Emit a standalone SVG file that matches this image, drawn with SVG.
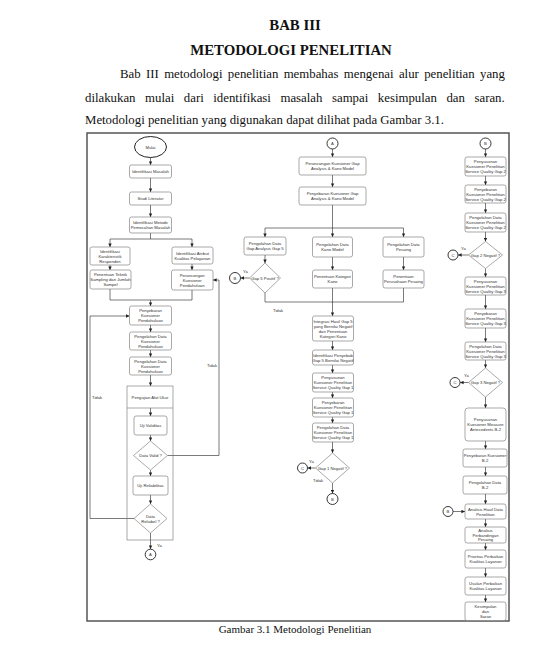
<svg xmlns="http://www.w3.org/2000/svg" width="558" height="655" viewBox="0 0 558 655">
<defs>
<marker id="ah" markerWidth="4" markerHeight="4" refX="3.6" refY="2" orient="auto" markerUnits="userSpaceOnUse"><path d="M0,0.3 L3.6,2 L0,3.7 z" fill="#222"/></marker>
<style>
.hd{font-family:"Liberation Serif","Times New Roman",serif;fill:#111}
.box{fill:#fff;stroke:#707070;stroke-width:0.6}
.dia{fill:#fff;stroke:#707070;stroke-width:0.6}
.con{fill:#fff;stroke:#222;stroke-width:0.9}
.t{font-family:"Liberation Sans",Arial,sans-serif;font-size:4.2px;fill:#333;text-anchor:middle}
.lb{font-family:"Liberation Sans",Arial,sans-serif;font-size:4.2px;fill:#333}
.ln{fill:none;stroke:#333;stroke-width:0.65}
.ar{fill:none;stroke:#333;stroke-width:0.65;marker-end:url(#ah)}
</style>
</defs>
<rect width="558" height="655" fill="#fff"/>
<text class="hd" x="295" y="30" font-size="14.8" font-weight="bold" text-anchor="middle">BAB III</text>
<text class="hd" x="291" y="55" font-size="14.8" font-weight="bold" text-anchor="middle">METODOLOGI PENELITIAN</text>
<text class="hd" x="120" y="78" font-size="12.8" word-spacing="2.18">Bab III metodologi penelitian membahas mengenai alur penelitian yang</text>
<text class="hd" x="85" y="102" font-size="12.8" word-spacing="6.4">dilakukan mulai dari identifikasi masalah sampai kesimpulan dan saran.</text>
<text class="hd" x="85" y="124" font-size="12.8">Metodologi penelitian yang digunakan dapat dilihat pada Gambar 3.1.</text>
<rect x="87" y="133" width="422" height="488" fill="none" stroke="#555" stroke-width="1.5"/>
<text class="hd" x="295" y="633" font-size="11" text-anchor="middle">Gambar 3.1 Metodologi Penelitian</text>

<g id="connectors">
<line class="ar" x1="150.5" y1="157.5" x2="150.5" y2="165"/>
<line class="ar" x1="150.5" y1="178" x2="150.5" y2="192"/>
<line class="ar" x1="150.5" y1="205" x2="150.5" y2="217"/>
<path class="ln" d="M150.5,233 V239 M110,239 H192"/>
<line class="ar" x1="110" y1="239" x2="110" y2="247"/>
<line class="ar" x1="192" y1="239" x2="192" y2="247"/>
<line class="ar" x1="110" y1="265" x2="110" y2="270"/>
<line class="ar" x1="192" y1="264" x2="192" y2="270"/>
<path class="ln" d="M110,289 V300 H192 V290"/>
<line class="ar" x1="150.5" y1="300" x2="150.5" y2="306"/>
<line class="ar" x1="150.5" y1="325" x2="150.5" y2="332"/>
<line class="ar" x1="150.5" y1="350" x2="150.5" y2="357"/>
<line class="ar" x1="150.5" y1="375" x2="150.5" y2="386"/>
<line class="ar" x1="150.5" y1="408" x2="150.5" y2="416"/>
<line class="ar" x1="150.5" y1="435" x2="150.5" y2="441"/>
<line class="ar" x1="150.5" y1="470" x2="150.5" y2="476"/>
<line class="ar" x1="150.5" y1="495" x2="150.5" y2="504"/>
<line class="ar" x1="150.5" y1="533" x2="150.5" y2="549"/>
<path class="ar" d="M167.5,455.5 H219 V280 H213"/>
<path class="ar" d="M134,518.5 H90 V316 H129.5"/>
<text class="lb" x="157" y="547">Ya</text>
<text class="lb" x="217" y="367" text-anchor="end">Tidak</text>
<text class="lb" x="92" y="399">Tidak</text>

<line class="ar" x1="332.5" y1="149" x2="332.5" y2="157"/>
<line class="ar" x1="332.5" y1="175" x2="332.5" y2="187"/>
<path class="ln" d="M332.5,205 V228 M265,228 H403.5"/>
<line class="ar" x1="265" y1="228" x2="265" y2="237"/>
<line class="ar" x1="332.5" y1="228" x2="332.5" y2="237"/>
<line class="ar" x1="403.5" y1="228" x2="403.5" y2="237"/>
<line class="ar" x1="265" y1="255" x2="265" y2="263"/>
<line class="ar" x1="332.5" y1="257" x2="332.5" y2="270"/>
<line class="ar" x1="403.5" y1="257" x2="403.5" y2="270"/>
<line class="ar" x1="249.5" y1="278" x2="240.5" y2="278"/>
<text class="lb" x="243" y="273">Ya</text>
<path class="ln" d="M265,293 V302 H403.5 V288 M332.5,288 V302"/>
<text class="lb" x="273" y="312">Tidak</text>
<line class="ar" x1="332.5" y1="302" x2="332.5" y2="316"/>
<line class="ar" x1="332.5" y1="341" x2="332.5" y2="350"/>
<line class="ar" x1="332.5" y1="365" x2="332.5" y2="373"/>
<line class="ar" x1="332.5" y1="392" x2="332.5" y2="398"/>
<line class="ar" x1="332.5" y1="417" x2="332.5" y2="423"/>
<line class="ar" x1="332.5" y1="442" x2="332.5" y2="453"/>
<line class="ar" x1="315.5" y1="468" x2="307.5" y2="468"/>
<text class="lb" x="309" y="463">Ya</text>
<text class="lb" x="313" y="482">Tidak</text>
<line class="ar" x1="332.5" y1="483" x2="332.5" y2="493.5"/>

<line class="ar" x1="485.5" y1="149" x2="485.5" y2="157"/>
<line class="ar" x1="485.5" y1="176" x2="485.5" y2="185"/>
<line class="ar" x1="485.5" y1="203" x2="485.5" y2="213"/>
<line class="ar" x1="485.5" y1="232" x2="485.5" y2="241.5"/>
<line class="ar" x1="468.5" y1="255" x2="458" y2="255"/>
<text class="lb" x="461" y="250">Ya</text>
<line class="ar" x1="485.5" y1="268.5" x2="485.5" y2="277"/>
<line class="ar" x1="485.5" y1="295" x2="485.5" y2="309"/>
<line class="ar" x1="485.5" y1="328" x2="485.5" y2="342"/>
<line class="ar" x1="485.5" y1="360" x2="485.5" y2="368"/>
<line class="ar" x1="468.5" y1="382.5" x2="460" y2="382.5"/>
<text class="lb" x="464" y="377">Ya</text>
<line class="ar" x1="485.5" y1="397" x2="485.5" y2="408"/>
<line class="ar" x1="485.5" y1="441" x2="485.5" y2="449"/>
<line class="ar" x1="485.5" y1="467" x2="485.5" y2="476"/>
<line class="ar" x1="485.5" y1="494" x2="485.5" y2="504"/>
<line class="ar" x1="453" y1="511.5" x2="465" y2="511.5"/>
<line class="ar" x1="485.5" y1="519" x2="485.5" y2="527"/>
<line class="ar" x1="485.5" y1="543" x2="485.5" y2="550"/>
<line class="ar" x1="485.5" y1="568" x2="485.5" y2="577"/>
<line class="ar" x1="485.5" y1="595" x2="485.5" y2="602"/>
</g>

<g id="mulai"><ellipse cx="150.5" cy="147" rx="16" ry="10.5" fill="#fff" stroke="#222" stroke-width="1"/><text class="t" x="150.5" y="148.5">Mulai</text></g>
<g id="n1"><rect class="box" x="129.5" y="165" width="42" height="13" rx="2"/><text class="t" x="150.5" y="173">Identifikasi Masalah</text></g>
<g id="n2"><rect class="box" x="129.5" y="192" width="42" height="13" rx="2"/><text class="t" x="150.5" y="200">Studi Literatur</text></g>
<g id="n3"><rect class="box" x="129.5" y="217" width="42" height="16" rx="2"/><text class="t" x="150.5" y="224">Identifikasi Metode<tspan x="150.5" dy="5">Pemecahan Masalah</tspan></text></g>
<g id="n4"><rect class="box" x="90" y="247" width="40" height="18" rx="2"/><text class="t" x="110" y="252.5">Identifikasi<tspan x="110" dy="5">Karakteristik</tspan><tspan x="110" dy="5">Responden</tspan></text></g>
<g id="n5"><rect class="box" x="172" y="247" width="41" height="17" rx="2"/><text class="t" x="192.5" y="254.5">Identifikasi Atribut<tspan x="192.5" dy="5">Kualitas Pelayanan</tspan></text></g>
<g id="n6"><rect class="box" x="90" y="270" width="41" height="19" rx="2"/><text class="t" x="110.5" y="276">Penentuan Teknik<tspan x="110.5" dy="5">Sampling dan Jumlah</tspan><tspan x="110.5" dy="5">Sampel</tspan></text></g>
<g id="n7"><rect class="box" x="171.5" y="270" width="41.5" height="20" rx="2"/><text class="t" x="192.2" y="276.5">Perancangan<tspan x="192.2" dy="5">Kuesioner</tspan><tspan x="192.2" dy="5">Pendahuluan</tspan></text></g>
<g id="n8"><rect class="box" x="129.5" y="306" width="42" height="19" rx="2"/><text class="t" x="150.5" y="312">Penyebaran<tspan x="150.5" dy="5">Kuesioner</tspan><tspan x="150.5" dy="5">Pendahuluan</tspan></text></g>
<g id="n9"><rect class="box" x="129.5" y="332" width="42" height="18" rx="2"/><text class="t" x="150.5" y="337.5">Pengolahan Data<tspan x="150.5" dy="5">Kuesioner</tspan><tspan x="150.5" dy="5">Pendahuluan</tspan></text></g>
<g id="n10"><rect class="box" x="129.5" y="357" width="42" height="18" rx="2"/><text class="t" x="150.5" y="362.5">Pengolahan Data<tspan x="150.5" dy="5">Kuesioner</tspan><tspan x="150.5" dy="5">Pendahuluan</tspan></text></g>
<g id="pengujian"><rect x="127" y="386" width="46" height="154" fill="none" stroke="#707070" stroke-width="0.6"/><line x1="127" y1="408" x2="173" y2="408" stroke="#707070" stroke-width="0.6"/><text class="t" x="150" y="398.5">Pengujian Alat Ukur</text></g>
<g id="n11"><rect class="box" x="134" y="416" width="33" height="19" rx="2"/><text class="t" x="150.5" y="427">Uji Validitas</text></g>
<g id="d1"><path class="dia" d="M150.5,441 L167.5,455.5 L150.5,470 L133.5,455.5 Z"/><text class="t" x="150.5" y="457">Data Valid ?</text></g>
<g id="n12"><rect class="box" x="133" y="476" width="35" height="19" rx="2"/><text class="t" x="150.5" y="487">Uji Reliabilitas</text></g>
<g id="d2"><path class="dia" d="M150.5,504 L167,518.5 L150.5,533 L134,518.5 Z"/><text class="t" x="150.5" y="517.5">Data<tspan x="150.5" dy="5">Reliabel ?</tspan></text></g>
<g id="cA1"><circle class="con" cx="150.5" cy="554.5" r="5.3"/><text class="t" x="150.5" y="556">A</text></g>

<g id="cA2"><circle class="con" cx="332.5" cy="143.5" r="5.5"/><text class="t" x="332.5" y="145">A</text></g>
<g id="m1"><rect class="box" x="299" y="157" width="67" height="18" rx="2"/><text class="t" x="332.5" y="165">Perancangan Kuesioner Gap<tspan x="332.5" dy="5">Analysis &amp; Kano Model</tspan></text></g>
<g id="m2"><rect class="box" x="299" y="187" width="67" height="18" rx="2"/><text class="t" x="332.5" y="195">Penyebaran Kuesioner Gap<tspan x="332.5" dy="5">Analysis &amp; Kano Model</tspan></text></g>
<g id="m3"><rect class="box" x="244" y="237" width="42" height="18" rx="2"/><text class="t" x="265" y="245">Pengolahan Data<tspan x="265" dy="5">Gap Analysis Gap 5</tspan></text></g>
<g id="m4"><rect class="box" x="312.5" y="237" width="40" height="20" rx="2"/><text class="t" x="332.5" y="246">Pengolahan Data<tspan x="332.5" dy="5">Kano Model</tspan></text></g>
<g id="m5"><rect class="box" x="383" y="237" width="41" height="20" rx="2"/><text class="t" x="403.5" y="246">Pengolahan Data<tspan x="403.5" dy="5">Pesaing</tspan></text></g>
<g id="d3"><path class="dia" d="M265,263 L280.5,278 L265,293 L249.5,278 Z"/><text class="t" x="265" y="279.5">Gap 5 Positif ?</text></g>
<g id="cB1"><circle class="con" cx="235" cy="278" r="5.5"/><text class="t" x="235" y="279.5">B</text></g>
<g id="m6"><rect class="box" x="312.5" y="270" width="40" height="18" rx="2"/><text class="t" x="332.5" y="278">Penentuan Kategori<tspan x="332.5" dy="5">Kano</tspan></text></g>
<g id="m7"><rect class="box" x="383" y="270" width="41" height="18" rx="2"/><text class="t" x="403.5" y="278">Penentuan<tspan x="403.5" dy="5">Perusahaan Pesaing</tspan></text></g>
<g id="m8"><rect class="box" x="312.5" y="316" width="41" height="25" rx="2"/><text class="t" x="333" y="322.5">Integrasi Hasil Gap 5<tspan x="333" dy="5">yang Bernilai Negatif</tspan><tspan x="333" dy="5">dan Penentuan</tspan><tspan x="333" dy="5">Kategori Kano</tspan></text></g>
<g id="m9"><rect class="box" x="312.5" y="350" width="41" height="15" rx="2"/><text class="t" x="333" y="356.5">Identifikasi Penyebab<tspan x="333" dy="5">Gap 5 Bernilai Negatif</tspan></text></g>
<g id="m10"><rect class="box" x="312.5" y="373" width="41" height="19" rx="2"/><text class="t" x="333" y="379">Penyusunan<tspan x="333" dy="5">Kuesioner Penelitian</tspan><tspan x="333" dy="5">Service Quality Gap 1</tspan></text></g>
<g id="m11"><rect class="box" x="312.5" y="398" width="41" height="19" rx="2"/><text class="t" x="333" y="404">Penyebaran<tspan x="333" dy="5">Kuesioner Penelitian</tspan><tspan x="333" dy="5">Service Quality Gap 1</tspan></text></g>
<g id="m12"><rect class="box" x="312.5" y="423" width="41" height="19" rx="2"/><text class="t" x="333" y="429">Pengolahan Data<tspan x="333" dy="5">Kuesioner Penelitian</tspan><tspan x="333" dy="5">Service Quality Gap 1</tspan></text></g>
<g id="d4"><path class="dia" d="M332.5,453 L349.5,468 L332.5,483 L315.5,468 Z"/><text class="t" x="332.5" y="469.5">Gap 1 Negatif ?</text></g>
<g id="cC1"><circle class="con" cx="302.5" cy="468" r="5"/><text class="t" x="302.5" y="469.5">C</text></g>
<g id="cB2"><circle class="con" cx="332.5" cy="499" r="5.5"/><text class="t" x="332.5" y="500.5">B</text></g>

<g id="cB3"><circle class="con" cx="485.5" cy="143.5" r="5.5"/><text class="t" x="485.5" y="145">B</text></g>
<g id="r1"><rect class="box" x="465" y="157" width="41" height="19" rx="2"/><text class="t" x="485.5" y="163">Penyusunan<tspan x="485.5" dy="5">Kuesioner Penelitian</tspan><tspan x="485.5" dy="5">Service Quality Gap 2</tspan></text></g>
<g id="r2"><rect class="box" x="465" y="185" width="41" height="18" rx="2"/><text class="t" x="485.5" y="190.5">Penyebaran<tspan x="485.5" dy="5">Kuesioner Penelitian</tspan><tspan x="485.5" dy="5">Service Quality Gap 2</tspan></text></g>
<g id="r3"><rect class="box" x="465" y="213" width="41" height="19" rx="2"/><text class="t" x="485.5" y="219">Pengolahan Data<tspan x="485.5" dy="5">Kuesioner Penelitian</tspan><tspan x="485.5" dy="5">Service Quality Gap 2</tspan></text></g>
<g id="d5"><path class="dia" d="M485.5,241.5 L502.5,255 L485.5,268.5 L468.5,255 Z"/><text class="t" x="485.5" y="256.5">Gap 2 Negatif ?</text></g>
<g id="cC2"><circle class="con" cx="453" cy="255" r="5"/><text class="t" x="453" y="256.5">C</text></g>
<g id="r4"><rect class="box" x="465" y="277" width="41" height="18" rx="2"/><text class="t" x="485.5" y="282.5">Penyusunan<tspan x="485.5" dy="5">Kuesioner Penelitian</tspan><tspan x="485.5" dy="5">Service Quality Gap 3</tspan></text></g>
<g id="r5"><rect class="box" x="465" y="309" width="41" height="19" rx="2"/><text class="t" x="485.5" y="315">Penyebaran<tspan x="485.5" dy="5">Kuesioner Penelitian</tspan><tspan x="485.5" dy="5">Service Quality Gap 3</tspan></text></g>
<g id="r6"><rect class="box" x="465" y="342" width="41" height="18" rx="2"/><text class="t" x="485.5" y="347.5">Pengolahan Data<tspan x="485.5" dy="5">Kuesioner Penelitian</tspan><tspan x="485.5" dy="5">Service Quality Gap 3</tspan></text></g>
<g id="d6"><path class="dia" d="M485.5,368 L502.5,382.5 L485.5,397 L468.5,382.5 Z"/><text class="t" x="485.5" y="384">Gap 3 Negatif ?</text></g>
<g id="cC3"><circle class="con" cx="455" cy="382.5" r="5"/><text class="t" x="455" y="384">C</text></g>
<g id="r7"><rect class="box" x="465" y="408" width="41" height="33" rx="3"/><text class="t" x="485.5" y="421">Penyusunan<tspan x="485.5" dy="5">Kuesioner Measure</tspan><tspan x="485.5" dy="5">Antecedents B-2</tspan></text></g>
<g id="r8"><rect class="box" x="463" y="449" width="44" height="18" rx="2"/><text class="t" x="485" y="457">Penyebaran Kuesioner<tspan x="485" dy="5">B-2</tspan></text></g>
<g id="r9"><rect class="box" x="463" y="476" width="44" height="18" rx="2"/><text class="t" x="485" y="484">Pengolahan Data<tspan x="485" dy="5">B-2</tspan></text></g>
<g id="r10"><rect class="box" x="465" y="504" width="41" height="15" rx="2"/><text class="t" x="485.5" y="510.5">Analisis Hasil Data<tspan x="485.5" dy="5">Penelitian</tspan></text></g>
<g id="cB4"><circle class="con" cx="448" cy="511.5" r="5"/><text class="t" x="448" y="513">B</text></g>
<g id="r11"><rect class="box" x="465" y="527" width="41" height="16" rx="2"/><text class="t" x="485.5" y="531.7">Analisis<tspan x="485.5" dy="4.8">Perbandingan</tspan><tspan x="485.5" dy="4.8">Pesaing</tspan></text></g>
<g id="r12"><rect class="box" x="465" y="550" width="41" height="18" rx="2"/><text class="t" x="485.5" y="558">Prioritas Perbaikan<tspan x="485.5" dy="5">Kualitas Layanan</tspan></text></g>
<g id="r13"><rect class="box" x="465" y="577" width="41" height="18" rx="2"/><text class="t" x="485.5" y="585">Usulan Perbaikan<tspan x="485.5" dy="5">Kualitas Layanan</tspan></text></g>
<g id="r14"><rect class="box" x="465" y="602" width="41" height="18.5" rx="2"/><text class="t" x="485.5" y="608">Kesimpulan<tspan x="485.5" dy="5">dan</tspan><tspan x="485.5" dy="5">Saran</tspan></text></g>
</svg>
